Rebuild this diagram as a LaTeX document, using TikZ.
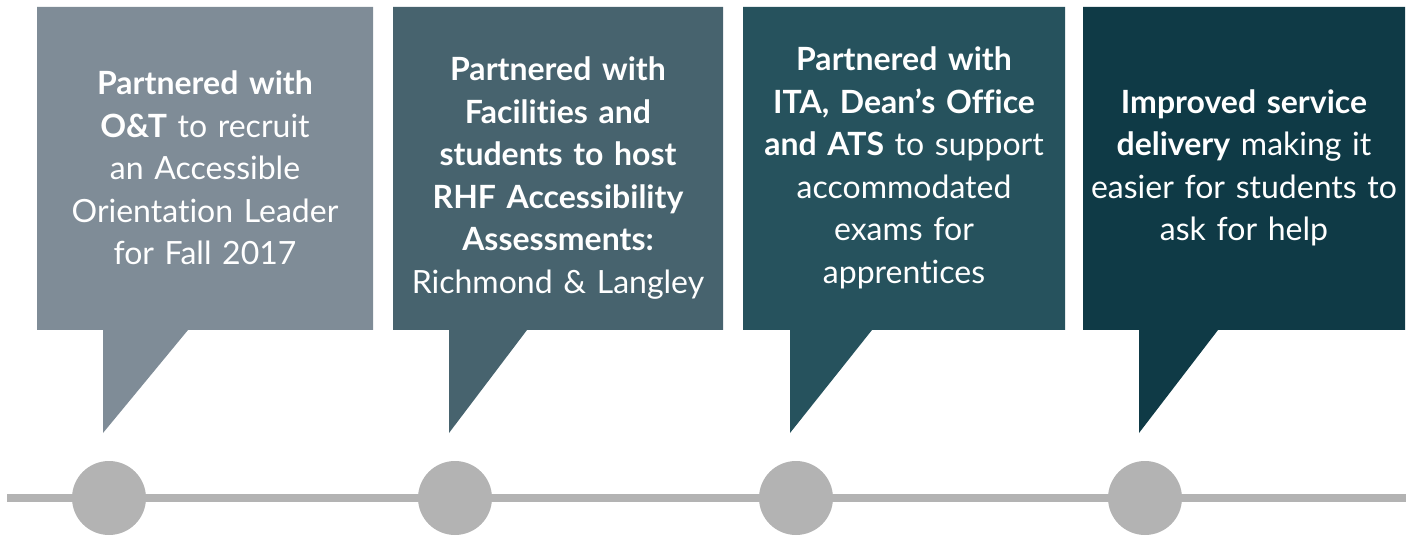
\documentclass[tikz,border=0pt]{standalone}
\usepackage{fontspec}
\setmainfont{Lato}[Ligatures={TeX,NoCommon}]

\definecolor{calloutA}{HTML}{7F8C97}
\definecolor{calloutB}{HTML}{47636E}
\definecolor{calloutC}{HTML}{26525D}
\definecolor{calloutD}{HTML}{0F3A46}
\definecolor{railgray}{HTML}{B3B3B3}

\begin{document}
\begin{tikzpicture}[x=1pt, y=-1pt,
	blurb/.style={text=white, align=center, text width=334pt, inner sep=0pt,
		font=\fontsize{32}{42.5}\selectfont},
	milestone/.style={circle, fill=railgray, minimum size=74pt, inner sep=0pt}]
	\useasboundingbox (0,0) rectangle (1409,537);

	% timeline
	\coordinate (railL) at (7,498);
	\coordinate (railR) at (1406,498);
	\draw[railgray, line width=7.5pt] (railL) -- (railR);
	\node[milestone] (m1) at (109,498) {};
	\node[milestone] (m2) at (455,498) {};
	\node[milestone] (m3) at (796,498) {};
	\node[milestone] (m4) at (1145,498) {};

	% callouts
	\fill[calloutA] (37,7) -- (373,7) -- (373,330) -- (188,330) -- (103,433) -- (103,330) -- (37,330) -- cycle;
	\fill[calloutB] (393,7) -- (723,7) -- (723,330) -- (527,330) -- (449,433) -- (449,330) -- (393,330) -- cycle;
	\fill[calloutC] (743,7) -- (1065,7) -- (1065,330) -- (872,330) -- (790,433) -- (790,330) -- (743,330) -- cycle;
	\fill[calloutD] (1083,7) -- (1405,7) -- (1405,330) -- (1218,330) -- (1139,433) -- (1139,330) -- (1083,330) -- cycle;

	\node[blurb] (t1) at (205,168) {\textbf{Partnered with}\\\textbf{O\&T} to recruit\\an Accessible\\Orientation Leader\\for Fall 2017};
	\node[blurb] (t2) at (558,178) {\textbf{Partnered with}\\\textbf{Facilities and}\\\textbf{students to host}\\\textbf{RHF Accessibility}\\\textbf{Assessments:}\\Richmond \& Langley};
	\node[blurb] (t3) at (904,168) {\textbf{Partnered with}\\\textbf{ITA, Dean’s Office}\\\textbf{and ATS} to support\\accommodated\\exams for\\apprentices};
	\node[blurb] (t4) at (1244,168) {\textbf{Improved service}\\\textbf{delivery} making it\\easier for students to\\ask for help};

\end{tikzpicture}
\end{document}
